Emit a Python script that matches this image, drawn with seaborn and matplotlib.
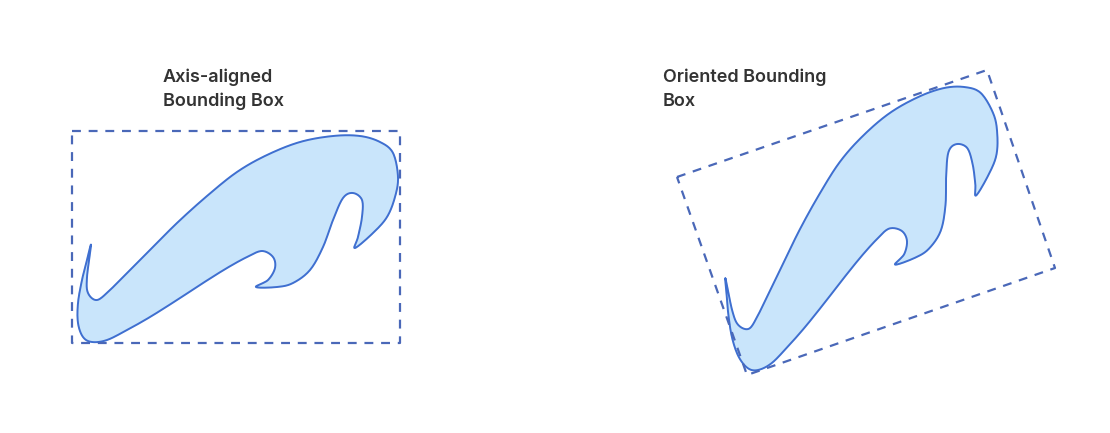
import numpy as np
import pandas as pd
import seaborn as sns
import matplotlib.pyplot as plt

# outline of the wave shape (pixel coords)
shape_x = [91, 87, 82, 78, 78, 83, 92, 107, 127, 150, 177, 203, 227, 247, 262,
           273, 275, 268, 256, 277, 293, 310, 323, 333, 343, 353, 362, 362, 358, 355,
           373, 387, 395, 398, 393, 380, 360, 333, 300, 267, 237, 207, 177, 150,
           127, 110, 97, 88, 87]
shape_y = [245, 260, 280, 303, 323, 337, 342, 340, 330, 317, 300, 283, 268, 257, 251,
           257, 268, 280, 287, 287, 283, 270, 247, 220, 198, 193, 200, 217, 237, 248,
           233, 217, 197, 177, 153, 142, 136, 136, 142, 155, 172, 196, 223, 250,
           273, 290, 300, 293, 277]

# box corners
obb_x = [677, 987, 1055, 747]
obb_y = [177, 70, 268, 375]
aabb_x = [72, 400, 400, 72]
aabb_y = [131, 131, 343, 343]


def catmull(x, y, steps=12):
    p = np.column_stack([x, y]).astype(float)
    n = len(p)
    out = []
    t = np.linspace(0, 1, steps, endpoint=False)[:, None]
    for i in range(n):
        p0, p1, p2, p3 = p[i - 1], p[i], p[(i + 1) % n], p[(i + 2) % n]
        out.append(0.5 * (2 * p1 + (-p0 + p2) * t + (2 * p0 - 5 * p1 + 4 * p2 - p3) * t ** 2
                          + (-p0 + 3 * p1 - 3 * p2 + p3) * t ** 3))
    out = np.vstack(out)
    out = np.vstack([out, out[:1]])
    return out[:, 0], out[:, 1]


# right drawing: the same shape turned about its bottom point
theta = np.deg2rad(19)
bx, by = 92, 342
dx = np.array(shape_x) - bx
dy = np.array(shape_y) - by
rot_x = 758 + dx * np.cos(theta) + dy * np.sin(theta)
rot_y = 370 - dx * np.sin(theta) + dy * np.cos(theta)

sns.set_style("white")
plt.rcParams['font.family'] = ['Inter', 'DejaVu Sans']
fig = plt.figure(figsize=(11.1, 4.33), dpi=100)
ax = fig.add_axes([0, 0, 1, 1])

edge = "#3f6fd0"
fill = "#c9e5fb"
for sx, sy in [(shape_x, shape_y), (rot_x, rot_y)]:
    xs, ys = catmull(sx, sy)
    ax.fill(xs, ys, color=fill, zorder=1)
    df = pd.DataFrame({"x": xs, "y": ys})
    sns.lineplot(data=df, x="x", y="y", sort=False, estimator=None,
                 color=edge, lw=1.4, ax=ax, zorder=2)

for bxs, bys in [(aabb_x, aabb_y), (obb_x, obb_y)]:
    df = pd.DataFrame({"x": bxs + bxs[:1], "y": bys + bys[:1]})
    sns.lineplot(data=df, x="x", y="y", sort=False, estimator=None,
                 color="#4a68b8", lw=1.6, ls=(0, (4, 3.5)), ax=ax, zorder=3)

ax.text(163, 68, "Axis-aligned\nBounding Box", fontsize=13, fontweight="semibold",
        color="#333333", va="top", ha="left", linespacing=1.55)
ax.text(663, 68, "Oriented Bounding\nBox", fontsize=13, fontweight="semibold",
        color="#333333", va="top", ha="left", linespacing=1.55)

ax.set_xlim(0, 1110)
ax.set_ylim(433, 0)
ax.set_axis_off()
fig.savefig("out.png", dpi=100)
